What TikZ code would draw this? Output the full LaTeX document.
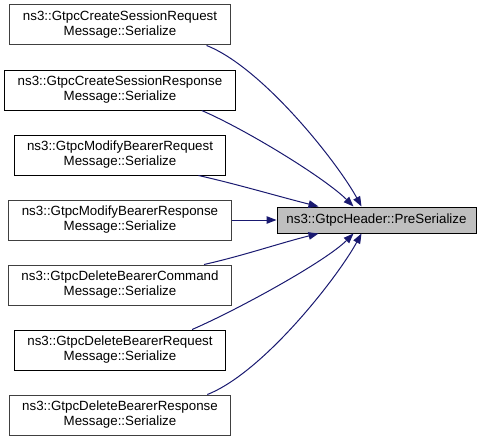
\documentclass[tikz,border=0pt]{standalone}
\usepackage{fontspec}
\setmainfont{Liberation Sans}
\usetikzlibrary{arrows.meta}
\definecolor{edgeblue}{HTML}{191970}
\definecolor{boxgray}{HTML}{404040}
\definecolor{targetfill}{HTML}{BFBFBF}
\tikzset{
  fn/.style={draw=boxgray, line width=1pt, fill=white, align=center,
    inner xsep=13pt, inner ysep=2pt, minimum height=40pt,
    font=\fontsize{13.33}{15}\selectfont},
  fnblack/.style={fn, draw=black},
  target/.style={draw=black, line width=1pt, fill=targetfill,
    minimum width=199pt, minimum height=26pt, inner sep=0pt,
    font=\fontsize{13.33}{15}\selectfont},
  edge/.style={draw=edgeblue, line width=1pt,
    -{Triangle[length=10pt,width=7.5pt]}}
}
\begin{document}
\begin{tikzpicture}[x=1pt,y=-1pt]
\useasboundingbox (0,0) rectangle (481,444);
\node[fn]      (b1) at (120,25)  {ns3::GtpcCreateSessionRequest\\Message::Serialize};
\node[fnblack] (b2) at (120,90)  {ns3::GtpcCreateSessionResponse\\Message::Serialize};
\node[fnblack] (b3) at (120,155) {ns3::GtpcModifyBearerRequest\\Message::Serialize};
\node[fn]      (b4) at (120,220) {ns3::GtpcModifyBearerResponse\\Message::Serialize};
\node[fn]      (b5) at (120,285) {ns3::GtpcDeleteBearerCommand\\Message::Serialize};
\node[fnblack] (b6) at (120,350) {ns3::GtpcDeleteBearerRequest\\Message::Serialize};
\node[fn]      (b7) at (120,415) {ns3::GtpcDeleteBearerResponse\\Message::Serialize};
\node[target]  (t)  at (376.5,220) {ns3::GtpcHeader::PreSerialize};

\path[edge] ([xshift=-24pt]b1.south east) .. controls +(56,22) and +(-24,-44) .. ([xshift=85pt]t.north west);
\path[edge] ([xshift=-34pt]b2.south east) .. controls +(46,20) and +(-28,-28) .. ([xshift=77pt]t.north west);
\path[edge] ([xshift=-28pt]b3.south east) .. controls +(40,9) and +(-40,-10) .. ([xshift=42pt]t.north west);
\path[edge] (b4.east) -- (t.west);
\path[edge] ([xshift=-28pt]b5.north east) .. controls +(40,-9) and +(-40,10) .. ([xshift=42pt]t.south west);
\path[edge] ([xshift=-34pt]b6.north east) .. controls +(46,-20) and +(-28,28) .. ([xshift=77pt]t.south west);
\path[edge] ([xshift=-24pt]b7.north east) .. controls +(56,-22) and +(-24,44) .. ([xshift=85pt]t.south west);
\end{tikzpicture}
\end{document}
